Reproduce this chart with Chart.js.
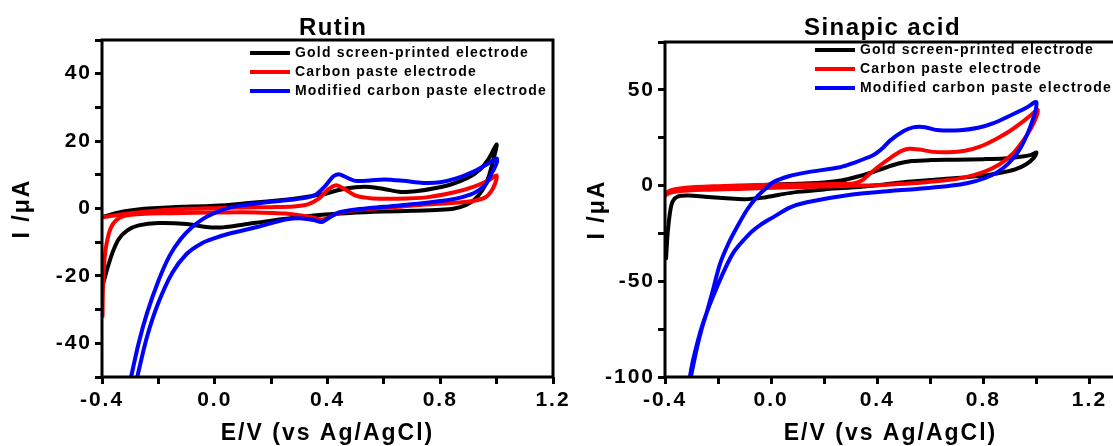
<!DOCTYPE html>
<html><head><meta charset="utf-8">
<script src="https://cdn.jsdelivr.net/npm/chart.js@4.4.1/dist/chart.umd.min.js"></script>
<style>
html,body{margin:0;padding:0;background:#fff;overflow:hidden;width:1113px;height:446px;}
#c1{position:absolute;left:0;top:0;}
#c2{position:absolute;left:560px;top:0;}
</style></head><body>
<canvas id="c1" width="600" height="446"></canvas>
<canvas id="c2" width="560" height="446"></canvas>
<script>
const FONT = "'Liberation Sans', Arial, Helvetica, sans-serif";

const seriesLabels = ['Gold screen-printed electrode', 'Carbon paste electrode', 'Modified carbon paste electrode'];
const seriesColors = ['#000000', '#ff0000', '#0000ff'];

const xTicks = [-0.4, -0.2, 0, 0.2, 0.4, 0.6, 0.8, 1.0, 1.2];
const xTickLabels = ['-0.4', '', '0.0', '', '0.4', '', '0.8', '', '1.2'];
const rutinYTicks = [-50, -40, -30, -20, -10, 0, 10, 20, 30, 40, 50];
const rutinYTickLabels = ['', '-40', '', '-20', '', '0', '', '20', '', '40', ''];
const sinapicYTicks = [-100, -75, -50, -25, 0, 25, 50, 75];
const sinapicYTickLabels = ['-100', '', '-50', '', '0', '', '50', ''];

// ---- Rutin ----
const rutinGoldE = [-0.4, -0.37, -0.34, -0.3, -0.25, -0.15, 0.0, 0.12, 0.25, 0.3, 0.35, 0.39, 0.44, 0.5, 0.55, 0.6, 0.66, 0.72, 0.78, 0.84, 0.9, 0.94, 0.97, 1.0,
  0.99, 0.97, 0.95, 0.92, 0.89, 0.85, 0.8, 0.7, 0.6, 0.48, 0.37, 0.3, 0.2, 0.1, 0.03, -0.03, -0.1, -0.2, -0.27, -0.31, -0.34, -0.36, -0.38, -0.395];
const rutinGoldI = [-2.6, -1.8, -1.2, -0.6, -0.1, 0.4, 0.8, 1.6, 2.6, 3.1, 3.8, 4.3, 5.5, 6.3, 6.4, 5.8, 4.9, 5.2, 6.0, 7.2, 9.2, 11.5, 14.5, 19,
  15, 9, 5.5, 2.5, 1.0, 0.0, -0.4, -0.7, -0.9, -1.3, -1.9, -2.6, -3.6, -4.8, -5.6, -5.5, -4.6, -4.3, -5.0, -6.5, -9, -12.5, -17.5, -22];

const rutinCpeE = [-0.4, -0.35, -0.3, -0.2, -0.1, 0.0, 0.1, 0.2, 0.28, 0.33, 0.37, 0.4, 0.43, 0.46, 0.5, 0.56, 0.65, 0.75, 0.85, 0.92, 0.97, 1.0,
  0.995, 0.98, 0.96, 0.92, 0.85, 0.75, 0.65, 0.55, 0.47, 0.43, 0.4, 0.38, 0.34, 0.25, 0.1, 0.0, -0.15, -0.26, -0.32, -0.35, -0.37, -0.385, -0.393, -0.397, -0.398];
const rutinCpeI = [-2.6, -2.0, -1.4, -0.6, -0.1, 0.1, 0.3, 0.4, 0.6, 1.2, 3.0, 5.5, 6.9, 5.8, 3.8, 3.0, 2.9, 3.3, 4.8, 6.5, 8.3, 9.8,
  7.5, 5.0, 3.3, 2.3, 1.7, 1.2, 0.5, -0.1, -0.8, -1.7, -2.8, -3.3, -2.5, -1.5, -1.1, -1.2, -1.4, -1.6, -2.2, -3.5, -6, -11, -17, -25, -32];

const rutinModE = [-0.302, -0.27, -0.24, -0.2, -0.16, -0.12, -0.08, -0.04, 0.0, 0.05, 0.1, 0.15, 0.2, 0.27, 0.33, 0.36, 0.39, 0.42, 0.44, 0.46, 0.5, 0.55, 0.6, 0.67, 0.74, 0.8, 0.86, 0.92, 0.96, 1.0,
  1.0, 0.98, 0.96, 0.92, 0.86, 0.8, 0.72, 0.6, 0.5, 0.44, 0.41, 0.38, 0.35, 0.3, 0.25, 0.15, 0.05, 0.0, -0.05, -0.1, -0.15, -0.2, -0.24, -0.275, -0.28];
const rutinModI = [-52, -40, -31, -21.5, -14, -9, -5.5, -3, -1.3, 0.2, 1.0, 1.5, 2.0, 2.6, 3.3, 4.2, 6.5, 9.5, 10.2, 9.5, 8.2, 8.3, 8.6, 8.2, 7.6, 7.8, 9.0, 11.0, 12.8, 14.8,
  13.5, 10, 7.0, 4.6, 3.0, 2.2, 1.4, 0.5, -0.3, -1.2, -2.5, -4.0, -3.4, -2.9, -3.3, -5.5, -7.5, -8.8, -10.5, -13.5, -19, -28, -38, -50, -52];

// ---- Sinapic acid ----
const sinGoldE = [-0.4, -0.38, -0.34, -0.25, -0.1, 0.0, 0.1, 0.2, 0.27, 0.32, 0.37, 0.43, 0.48, 0.53, 0.6, 0.7, 0.8, 0.88, 0.94, 0.98, 1.0,
  0.99, 0.96, 0.92, 0.86, 0.8, 0.7, 0.6, 0.5, 0.4, 0.3, 0.2, 0.1, 0.03, -0.03, -0.1, -0.17, -0.25, -0.31, -0.35, -0.37, -0.38, -0.39, -0.396];
const sinGoldI = [-5, -3.5, -2.5, -1.5, -0.3, 0.5, 1.0, 1.6, 2.8, 4.5, 6.5, 9.3, 11.5, 12.8, 13.3, 13.5, 13.8, 14.2, 15.0, 16.0, 17.3,
  14.5, 11.0, 8.5, 6.5, 5.2, 3.9, 2.9, 1.8, 0.2, -1.0, -2.0, -3.3, -4.8, -6.3, -7.1, -6.6, -5.8, -5.2, -5.6, -8, -13, -25, -38];

const sinCpeE = [-0.4, -0.38, -0.33, -0.2, -0.05, 0.1, 0.25, 0.31, 0.34, 0.37, 0.41, 0.45, 0.49, 0.52, 0.56, 0.61, 0.67, 0.73, 0.79, 0.85, 0.9, 0.95, 0.985, 1.005,
  1.0, 0.98, 0.95, 0.91, 0.86, 0.8, 0.73, 0.65, 0.55, 0.45, 0.35, 0.2, 0.05, -0.1, -0.25, -0.35, -0.39, -0.4];
const sinCpeI = [-4.5, -2.5, -1.2, -0.3, 0.3, 0.6, 0.8, 1.1, 2.5, 6.0, 10.5, 14.5, 18.0, 19.2, 18.8, 17.6, 17.4, 18.2, 20.5, 24.5, 28.5, 33.5, 37.5, 39.5,
  36, 30, 23.5, 16.5, 11, 7, 4.3, 2.6, 1.4, 0.6, 0.0, -0.5, -1.0, -1.6, -2.2, -3.0, -4.2, -5.5];

const sinModE = [-0.307, -0.28, -0.26, -0.242, -0.22, -0.193, -0.16, -0.13, -0.09, -0.054, -0.02, 0.007, 0.07, 0.135, 0.26, 0.3, 0.384, 0.42, 0.448, 0.5, 0.535, 0.58, 0.625, 0.712, 0.78, 0.836, 0.9, 0.96, 1.0,
  0.976, 0.927, 0.852, 0.738, 0.55, 0.448, 0.3, 0.135, 0.07, 0.007, -0.04, -0.08, -0.144, -0.204, -0.257, -0.294, -0.31];
const sinModI = [-103, -85, -74, -66, -55, -41, -30, -22, -12.5, -6, -1.5, 1.7, 5.0, 6.9, 9.6, 11.3, 15.8, 19.5, 23.5, 28.5, 30.4, 30.5, 29.0, 28.9, 30.2, 32.5, 36.5, 40.5, 43.5,
  30.4, 16.8, 6.9, 1.2, -1.8, -2.8, -4.8, -8.7, -11.5, -16.6, -20.5, -25, -35.4, -53, -72, -91, -103];

function pts(E, I) { return E.map((e, i) => ({ x: e, y: I[i] })); }

const textPlugin = {
  id: 'deco',
  beforeLayout(chart) { chart.ctx.letterSpacing = '2px'; },
  beforeDraw(chart) { chart.ctx.letterSpacing = '2px'; },
  afterDraw(chart, args, opts) {
    const { ctx, chartArea: a, scales: { x } } = chart;
    ctx.save();
    ctx.lineWidth = 3;
    ctx.strokeStyle = '#000';
    ctx.strokeRect(a.left, a.top, a.right - a.left, a.bottom - a.top);
    ctx.fillStyle = '#000';
    ctx.letterSpacing = '1.4px';
    ctx.font = 'bold 24px ' + FONT;
    ctx.textAlign = 'center';
    ctx.textBaseline = 'alphabetic';
    ctx.fillText(opts.title, x.getPixelForValue(opts.titleAt), 35);
    ctx.letterSpacing = '1.2px';
    ctx.font = 'bold 14px ' + FONT;
    ctx.textAlign = 'left';
    ctx.textBaseline = 'middle';
    ctx.lineCap = 'butt';
    seriesLabels.forEach((lab, i) => {
      const y = opts.legendY + i * 19;
      ctx.strokeStyle = seriesColors[i];
      ctx.lineWidth = 4;
      ctx.beginPath();
      ctx.moveTo(opts.legendX, y);
      ctx.lineTo(opts.legendX + 40, y);
      ctx.stroke();
      ctx.fillText(lab, opts.legendX + 45, y + 0.5);
    });
    ctx.restore();
  }
};

function makeChart(id, o) {
  const ds = [
    { label: seriesLabels[2], data: pts(o.modE, o.modI), borderColor: seriesColors[2], order: 0 },
    { label: seriesLabels[1], data: pts(o.cpeE, o.cpeI), borderColor: seriesColors[1], order: 1 },
    { label: seriesLabels[0], data: pts(o.goldE, o.goldI), borderColor: seriesColors[0], order: 2 }
  ].map(d => Object.assign(d, { showLine: true, borderWidth: 4, pointRadius: 0, tension: 0.3, fill: false, clip: 0, borderJoinStyle: 'round', borderCapStyle: 'round' }));
  const tickFont = { family: FONT, size: 21, weight: 'bold', lineHeight: 1.2 };
  const titleFont = { family: FONT, size: 23, weight: 'bold', lineHeight: 1 };
  const grid = { drawOnChartArea: false, drawTicks: true, tickLength: 7, tickWidth: 3, tickColor: '#000', color: '#000' };
  return new Chart(document.getElementById(id), {
    type: 'scatter',
    data: { datasets: ds },
    options: {
      responsive: false, animation: false, events: [],
      layout: { padding: { left: 0, top: o.top, right: o.right, bottom: 0 } },
      plugins: { legend: { display: false }, tooltip: { enabled: false },
        deco: { title: o.title, titleAt: 0.42, legendX: o.legendX, legendY: o.legendY } },
      scales: {
        x: {
          type: 'linear', min: -0.4, max: o.xMax,
          afterBuildTicks: s => { s.ticks = xTicks.map(v => ({ value: v })); },
          afterFit: s => { s.height = 69; s.paddingLeft = 0; s.paddingRight = 0; },
          grid: grid, border: { display: false },
          ticks: { color: '#000', font: tickFont, padding: 4, maxRotation: 0, autoSkip: false, callback: (v, i) => xTickLabels[i] },
          title: { display: true, text: 'E/V (vs Ag/AgCl)', color: '#000', font: titleFont, padding: { top: 0, bottom: 0.5 } }
        },
        y: {
          type: 'linear', min: o.yMin, max: o.yMax,
          afterBuildTicks: s => { s.ticks = o.yTicks.map(v => ({ value: v })); },
          afterFit: s => { s.width = o.yWidth; s.paddingTop = 0; s.paddingBottom = 0; },
          grid: grid, border: { display: false },
          ticks: { color: '#000', font: tickFont, padding: 3, autoSkip: false, callback: (v, i) => o.yLabels[i] },
          title: { display: true, text: 'I /μA', color: '#000', font: titleFont, padding: { top: o.yTitlePad, bottom: 0 } }
        }
      }
    },
    plugins: [textPlugin]
  });
}

makeChart('c1', {
  title: 'Rutin', top: 40, right: 47, yWidth: 102, xMax: 1.2, yMin: -50, yMax: 50,
  yTicks: rutinYTicks, yLabels: rutinYTickLabels, yTitlePad: 11.5, legendX: 250, legendY: 53,
  goldE: rutinGoldE, goldI: rutinGoldI, cpeE: rutinCpeE, cpeI: rutinCpeI, modE: rutinModE, modI: rutinModI
});
makeChart('c2', {
  title: 'Sinapic acid', top: 42, right: 4, yWidth: 105, xMax: 1.3, yMin: -100, yMax: 75,
  yTicks: sinapicYTicks, yLabels: sinapicYTickLabels, yTitlePad: 26.5, legendX: 255, legendY: 50,
  goldE: sinGoldE, goldI: sinGoldI, cpeE: sinCpeE, cpeI: sinCpeI, modE: sinModE, modI: sinModI
});
</script></body></html>
